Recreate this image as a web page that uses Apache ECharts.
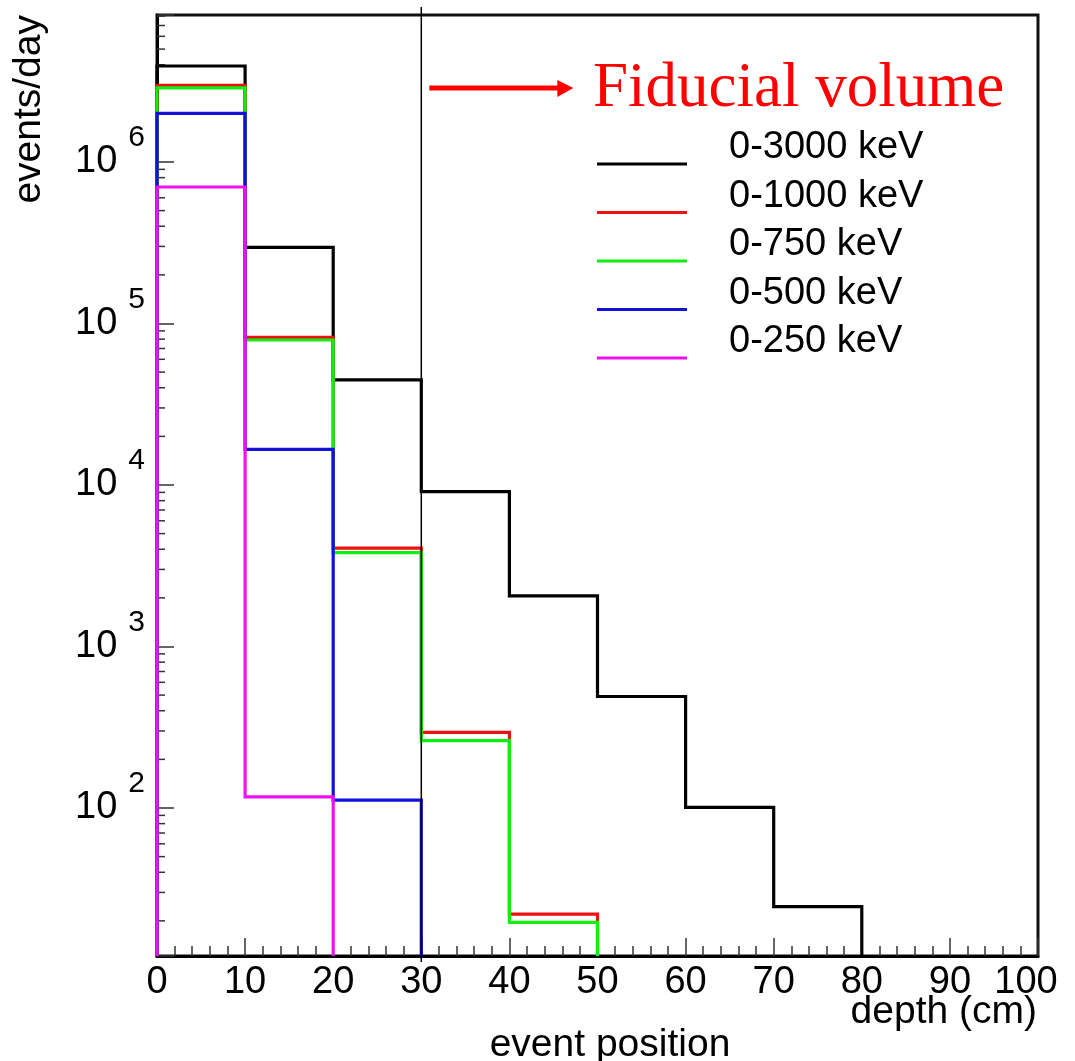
<!DOCTYPE html>
<html>
<head>
<meta charset="utf-8">
<script src="https://cdn.jsdelivr.net/npm/echarts@6/dist/echarts.min.js"></script>
<style>
html,body{margin:0;padding:0;background:#fff;}
#chart{width:1075px;height:1061px;}
</style>
</head>
<body>
<div id="chart"></div>
<script>
// ---- data ----
const binEdges = [0, 10, 20, 30, 40, 50, 60, 70, 80];
const seriesNames = ['0-3000 keV', '0-1000 keV', '0-750 keV', '0-500 keV', '0-250 keV'];
const seriesColors = ['#000000', '#ee1111', '#11ee11', '#1111dd', '#ee11ee'];
const vals3000 = [3.93e6, 2.96e5, 4.47e4, 9.1e3, 2.06e3, 490, 101, 24.5];
const vals1000 = [2.98e6, 8.2e4, 4.06e3, 294, 22];
const vals750  = [2.88e6, 7.9e4, 3.81e3, 261, 19.6];
const vals500  = [2.0e6, 1.66e4, 112];
const vals250  = [7.0e5, 117];
const xTicks = [0, 10, 20, 30, 40, 50, 60, 70, 80, 90, 100];
const yDecades = [2, 3, 4, 5, 6];
const Y_MIN = 12.12, Y_MAX = 8.13e6;
const FIDUCIAL_X = 30;

const FONT = "'Liberation Sans', Arial, Helvetica, sans-serif";
const SERIF = "'Liberation Serif', 'Times New Roman', serif";

function histPoints(vals) {
  const pts = [[binEdges[0], Y_MIN]];
  vals.forEach((v, i) => { pts.push([binEdges[i], v]); pts.push([binEdges[i + 1], v]); });
  pts.push([binEdges[vals.length], Y_MIN]);
  return pts;
}

// minor ticks of the log axis (2..9 x 10^n)
const minorTickVals = [];
for (let n = 1; n <= 6; n++) for (let k = 2; k <= 9; k++) {
  const v = k * Math.pow(10, n);
  if (v > Y_MIN && v < Y_MAX) minorTickVals.push([0, v]);
}

const allVals = [vals3000, vals1000, vals750, vals500, vals250];

const chart = echarts.init(document.getElementById('chart'), null, {renderer: 'canvas'});

const series = allVals.map((vals, i) => ({
  name: seriesNames[i],
  type: 'line',
  data: histPoints(vals),
  symbol: 'none',
  color: seriesColors[i],
  itemStyle: {color: seriesColors[i]},
  lineStyle: {color: seriesColors[i], width: 3.2, join: 'miter', cap: 'butt'},
  clip: true,
  z: 3 + i,
  animation: false
}));

series.push({
  name: 'minorTicks',
  type: 'custom',
  silent: true,
  clip: false,
  z: 2,
  data: minorTickVals,
  encode: {x: 0, y: 1},
  renderItem: function (params, api) {
    const p = api.coord([api.value(0), api.value(1)]);
    return {type: 'line', shape: {x1: p[0], y1: p[1], x2: p[0] + 8, y2: p[1]},
            style: {stroke: '#333', lineWidth: 1.5}};
  },
  animation: false
});

chart.setOption({
  animation: false,
  backgroundColor: '#fff',
  grid: {left: 157, right: 37, top: 15, bottom: 105, show: true,
         borderColor: '#111', borderWidth: 3, backgroundColor: 'transparent'},
  legend: {
    data: seriesNames,
    orient: 'vertical',
    left: 597, top: 129,
    padding: 0,
    itemWidth: 90, itemHeight: 3, itemGap: -21.5,
    icon: 'rect',
    selectedMode: false,
    formatter: function (name) { return name + '\n '; },
    textStyle: {fontFamily: FONT, fontSize: 38, color: '#000', lineHeight: 32, padding: [0, 0, 0, 37]}
  },
  xAxis: {
    type: 'value', min: xTicks[0], max: xTicks[xTicks.length - 1], interval: 10,
    axisLine: {show: true, lineStyle: {color: '#000', width: 3}},
    axisTick: {show: true, inside: true, length: 18, lineStyle: {color: '#333', width: 1.5}},
    minorTick: {show: true, splitNumber: 5, length: 10, lineStyle: {color: '#333', width: 1.5}},
    splitLine: {show: false},
    axisLabel: {fontFamily: FONT, fontSize: 38, color: '#000', margin: 8,
                showMinLabel: true, showMaxLabel: true,
                formatter: function (v) { return v === xTicks[xTicks.length - 1] ? '{r|' + v + '}' : String(v); },
                rich: {r: {fontFamily: FONT, fontSize: 38, color: '#000', padding: [0, 24, 0, 0]}}}
  },
  yAxis: {
    type: 'log', logBase: 10, min: Y_MIN, max: Y_MAX,
    axisLine: {show: true, lineStyle: {color: '#000', width: 3}},
    axisTick: {show: true, inside: true, length: 17, lineStyle: {color: '#333', width: 1.5}},
    splitLine: {show: false},
    axisLabel: {
      margin: 12,
      formatter: function (v) {
        const e = Math.log10(v), r = Math.round(e);
        if (Math.abs(e - r) > 1e-6 || yDecades.indexOf(r) < 0) return '';
        return '{b|10}{s|' + r + '}';
      },
      rich: {
        b: {fontFamily: FONT, fontSize: 38, color: '#000', lineHeight: 78, verticalAlign: 'middle'},
        s: {fontFamily: FONT, fontSize: 30, color: '#000', lineHeight: 40, padding: [0, 0, 0, 11], verticalAlign: 'top'}
      }
    }
  },
  series: series
});

const fidX = chart.convertToPixel({xAxisIndex: 0}, FIDUCIAL_X);

chart.setOption({
  graphic: [
    {type: 'line', z: 100, shape: {x1: fidX, y1: 7, x2: fidX, y2: 962},
     style: {stroke: '#000', lineWidth: 1.5}},
    {type: 'line', z: 100, shape: {x1: fidX + 8, y1: 88, x2: fidX + 138, y2: 88},
     style: {stroke: '#ff0000', lineWidth: 5}},
    {type: 'polygon', z: 100, shape: {points: [[fidX + 136, 80], [fidX + 152, 88], [fidX + 136, 97]]},
     style: {fill: '#ff0000'}},
    {type: 'text', z: 100, x: 593, y: 89,
     style: {text: 'Fiducial volume', fontFamily: SERIF, fontSize: 63, fill: '#ff0000',
             align: 'left', verticalAlign: 'middle'}},
    {type: 'text', z: 100, x: 29, y: 15, rotation: Math.PI / 2,
     style: {text: 'events/day', fontFamily: FONT, fontSize: 39, fill: '#000',
             align: 'right', verticalAlign: 'middle'}},
    {type: 'text', z: 100, x: 1037, y: 1012,
     style: {text: 'depth (cm)', fontFamily: FONT, fontSize: 39, fill: '#000',
             align: 'right', verticalAlign: 'middle'}},
    {type: 'text', z: 100, x: 610, y: 1045,
     style: {text: 'event position', fontFamily: FONT, fontSize: 39, fill: '#000',
             align: 'center', verticalAlign: 'middle'}}
  ]
});
</script>
</body>
</html>
